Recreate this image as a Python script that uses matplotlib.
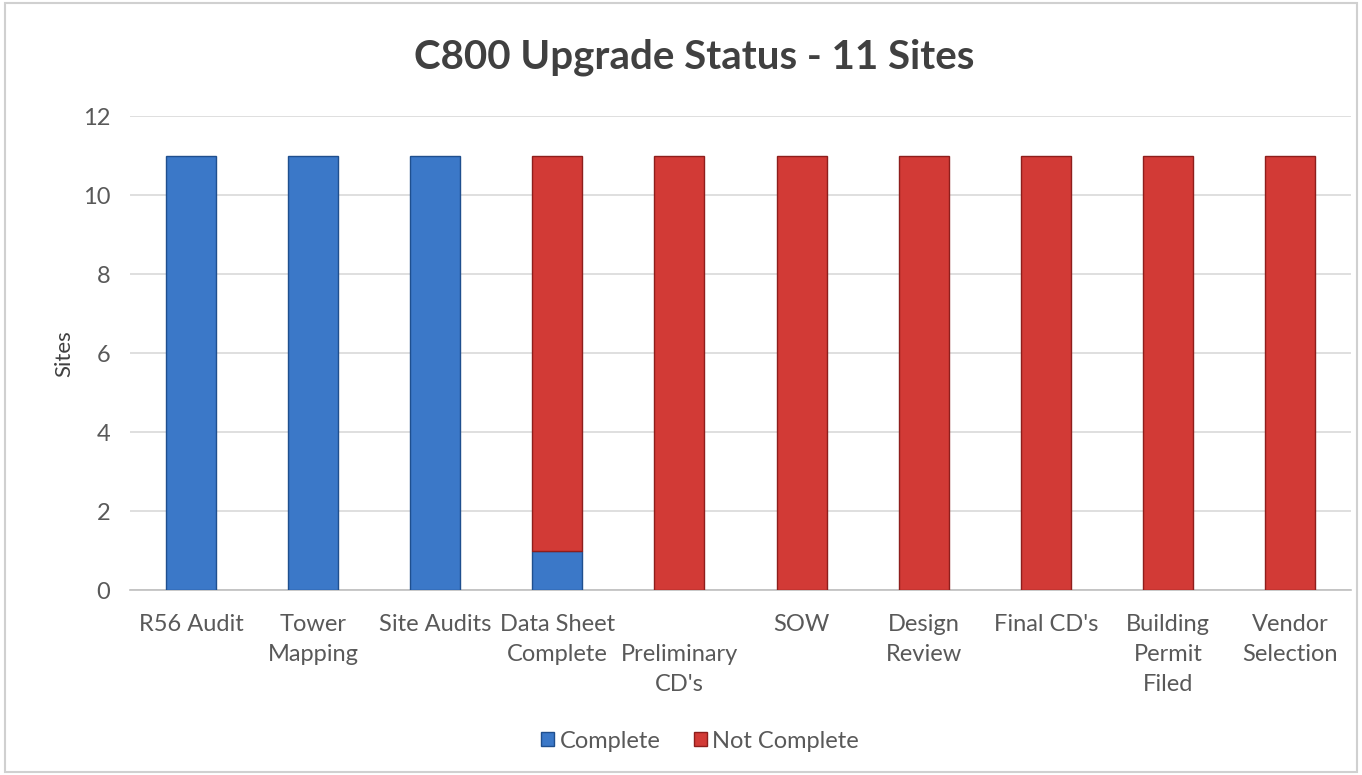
import matplotlib
matplotlib.use("Agg")
import matplotlib.pyplot as plt
from matplotlib.patches import Rectangle, Patch
import numpy as np

categories = ["R56 Audit", "Tower\nMapping", "Site Audits", "Data Sheet\nComplete",
              "\nPreliminary\nCD's", "SOW", "Design\nReview", "Final CD's",
              "Building\nPermit\nFiled", "Vendor\nSelection"]
complete = [11, 11, 11, 1, 0, 0, 0, 0, 0, 0]
not_complete = [0, 0, 0, 10, 11, 11, 11, 11, 11, 11]
series_names = ["Complete", "Not Complete"]

plt.rcParams['font.family'] = ['Lato', 'DejaVu Sans']

fig = plt.figure(figsize=(13.62, 7.75), dpi=100)
fig.patch.set_facecolor("white")
fig.add_artist(Rectangle((0.004, 0.004), 0.992, 0.992, transform=fig.transFigure,
                         fill=False, edgecolor="#D0D0D0", linewidth=1.5))

ax = fig.add_axes([0.0954, 0.2387, 0.8966, 0.6113])
x = np.arange(len(categories))
w = 0.41
blue = "#3B78C8"
red = "#D23A36"
blue_edge = "#1F4F8E"
red_edge = "#8E1E1C"
b1 = ax.bar(x, complete, w, color=blue, edgecolor=blue_edge, linewidth=1.0, zorder=3)
b2 = ax.bar(x, not_complete, w, bottom=complete, color=red, edgecolor=red_edge,
            linewidth=1.0, zorder=3)
for bars, vals in ((b1, complete), (b2, not_complete)):
    for r, v in zip(bars, vals):
        if v == 0:
            r.set_visible(False)

ax.set_xlim(-0.5, len(categories) - 0.5)
ax.set_ylim(0, 12)
ax.set_yticks(range(0, 13, 2))
ax.yaxis.grid(True, color="#D9D9D9", linewidth=1.2, zorder=0)
ax.set_axisbelow(True)
for s in ["top", "right", "left"]:
    ax.spines[s].set_visible(False)
ax.spines["bottom"].set_color("#BFBFBF")
ax.spines["bottom"].set_linewidth(1.2)
ax.tick_params(axis="both", length=0, colors="#595959", labelsize=17)
ax.tick_params(axis="x", pad=17)
ax.tick_params(axis="y", pad=14)
ax.set_xticks(x)
ax.set_xticklabels(categories, linespacing=1.55)
ax.set_ylabel("Sites", fontsize=16, color="#404040", labelpad=6)

fig.text(694 / 1362, 0.926, "C800 Upgrade Status - 11 Sites", ha="center", va="center",
         fontsize=29, fontweight="bold", color="#404040")

handles = [Patch(facecolor=blue, edgecolor=blue_edge), Patch(facecolor=red, edgecolor=red_edge)]
leg = ax.legend(handles, series_names, loc="center", frameon=False,
                ncol=2, fontsize=17, handlelength=0.55, handleheight=0.55,
                handletextpad=0.25, columnspacing=1.4)
leg.set_bbox_to_anchor((700 / 1362, 1 - 741 / 775), transform=fig.transFigure)
for t in leg.get_texts():
    t.set_color("#595959")

fig.savefig("out.png", dpi=100, facecolor="white")
